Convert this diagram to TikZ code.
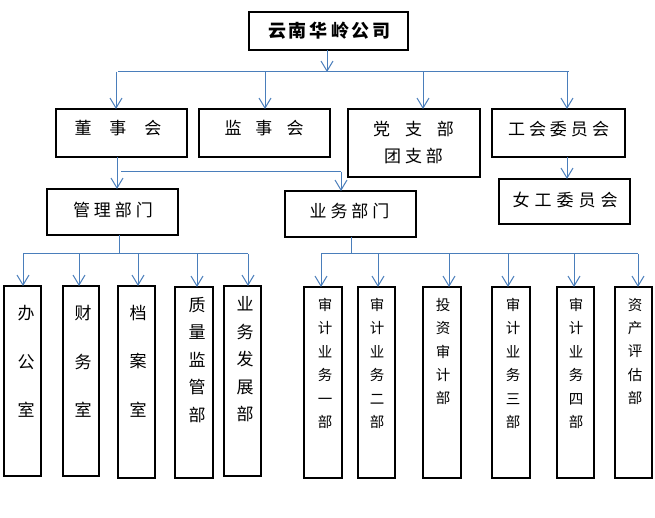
\documentclass[tikz,border=0pt]{standalone}
\usepackage{fontspec}
\setmainfont{Noto Sans CJK SC}
\usetikzlibrary{arrows.meta}
\definecolor{lnblue}{HTML}{4A7EBB}
\newcommand{\ks}{\hspace{4pt}}
\newcommand{\bx}[5]{\node[box, minimum width={#4-#2}, minimum height={#5-#3}] (#1) at (#2,#3) {};}
\tikzset{
  box/.style={draw=black, line width=1.2pt, inner sep=0pt, outer sep=0pt, anchor=north west},
  ln/.style={draw=lnblue, line width=1pt},
  arr/.style={draw=lnblue, line width=1pt, -{Straight Barb[length=10pt,width=12pt]}},
  lbl/.style={inner sep=0pt, align=center, font=\fontsize{17}{27}\selectfont},
  lblA/.style={inner sep=0pt, align=center, font=\fontsize{17}{48.5}\selectfont},
  lblB/.style={inner sep=0pt, align=center, font=\fontsize{17}{27.5}\selectfont},
  lblC/.style={inner sep=0pt, align=center, font=\fontsize{14.5}{23.4}\selectfont},
}
\begin{document}
\begin{tikzpicture}[x=1pt,y=-1pt]
\fill[white] (0,0) rectangle (655,518);
\useasboundingbox (0,0) rectangle (655,518);

% boxes
\bx{top}{249}{12}{408}{50}
\bx{dsh}{56}{109}{187}{157}
\bx{jsh}{199}{109}{330}{157}
\bx{dzb}{348}{109}{480}{177}
\bx{gh}{492}{109}{625}{157}
\bx{ng}{499}{179}{630}{224}
\bx{gl}{47}{189}{178}{235}
\bx{yw}{285}{191}{416}{237}
\bx{b1}{4}{286}{41}{476}
\bx{b2}{63}{286}{99}{476}
\bx{b3}{118}{286}{155}{478}
\bx{b4}{175}{287}{213}{478}
\bx{b5}{224}{286}{261}{476}
\bx{r1}{304}{287}{342}{478}
\bx{r2}{358}{287}{395}{478}
\bx{r3}{423}{287}{461}{478}
\bx{r4}{492}{287}{530}{478}
\bx{r5}{557}{287}{594}{478}
\bx{r6}{615}{287}{652}{478}

% texts
\node[inner sep=0pt, font=\fontsize{18}{20}\selectfont\bfseries] (t-top) at (329.5,31) {云\hspace{3pt}南\hspace{3pt}华\hspace{3pt}岭\hspace{3pt}公\hspace{3pt}司};
\node[lbl] (t-dsh) at (118,128) {董\hspace{18pt}事\hspace{18pt}会};
\node[lbl] (t-jsh) at (264,128) {监\hspace{14pt}事\hspace{14pt}会};
\node[lbl] (t-dzb) at (413.5,142.5) {党\hspace{15pt}支\hspace{15pt}部\\团\ks 支\ks 部};
\node[lbl] (t-gh) at (558.5,129) {工\ks 会\ks 委\ks 员\ks 会};
\node[lbl] (t-ng) at (565,200) {女\hspace{5pt}工\hspace{5pt}委\hspace{5pt}员\hspace{5pt}会};
\node[lbl] (t-gl) at (113,210) {管\ks 理\ks 部\ks 门};
\node[lbl] (t-yw) at (349.5,211) {业\ks 务\ks 部\ks 门};

\node[lblA] (t-b1) at (26,361.5) {办\\公\\室};
\node[lblA] (t-b2) at (83,361.5) {财\\务\\室};
\node[lblA] (t-b3) at (138,361) {档\\案\\室};
\node[lblB] (t-b4) at (197,360) {质\\量\\监\\管\\部};
\node[lblB] (t-b5) at (245,359.5) {业\\务\\发\\展\\部};

\node[lblC] (t-r1) at (325,363.5) {审\\计\\业\\务\\一\\部};
\node[lblC] (t-r2) at (377,363.5) {审\\计\\业\\务\\二\\部};
\node[lblC] (t-r3) at (443,351.5) {投\\资\\审\\计\\部};
\node[lblC] (t-r4) at (513,363.5) {审\\计\\业\\务\\三\\部};
\node[lblC] (t-r5) at (576,363.5) {审\\计\\业\\务\\四\\部};
\node[lblC] (t-r6) at (635,351.5) {资\\产\\评\\估\\部};

% top bus
\coordinate (busT) at (327,72);
\coordinate (busTL) at (118,72);
\coordinate (busTR) at (569,72);
\coordinate (a1) at (116,72);
\coordinate (a2) at (265,72);
\coordinate (a3) at (423,72);
\coordinate (a4) at (567,72);
\draw[arr] (busT |- top.south) -- (busT);
\draw[ln] (busTL) -- (busTR);
\draw[arr] (a1) -- (a1 |- dsh.north);
\draw[arr] (a2) -- (a2 |- jsh.north);
\draw[arr] (a3) -- (a3 |- dzb.north);
\draw[arr] (a4) -- (a4 |- gh.north);
\draw[arr] (a4 |- gh.south) -- (a4 |- ng.north);

% board to departments
\coordinate (d0) at (117,172);
\coordinate (h1) at (121,172);
\coordinate (h2) at (341,172);
\draw[arr] (d0 |- dsh.south) -- (d0 |- gl.north);
\draw[ln] (h1) -- (h2);
\draw[arr] (h2) -- (h2 |- yw.north);

% management bus
\coordinate (gb) at (119,254);
\coordinate (gbl) at (23,254);
\coordinate (gbr) at (248,254);
\draw[ln] (gb |- gl.south) -- (gb);
\draw[ln] (gbl) -- (gbr);
\coordinate (c1) at (23,254);
\coordinate (c2) at (79,254);
\coordinate (c3) at (138,254);
\coordinate (c4) at (197,254);
\coordinate (c5) at (248,254);
\draw[arr] (c1) -- (c1 |- b1.north);
\draw[arr] (c2) -- (c2 |- b2.north);
\draw[arr] (c3) -- (c3 |- b3.north);
\draw[arr] (c4) -- (c4 |- b4.north);
\draw[arr] (c5) -- (c5 |- b5.north);

% business bus
\coordinate (yb) at (351,254);
\coordinate (ybl) at (321,254);
\coordinate (ybr) at (638,254);
\draw[ln] (yb |- yw.south) -- (yb);
\draw[ln] (ybl) -- (ybr);
\coordinate (e1) at (321,254);
\coordinate (e2) at (378,254);
\coordinate (e3) at (449,254);
\coordinate (e4) at (508,254);
\coordinate (e5) at (574,254);
\coordinate (e6) at (638,254);
\draw[arr] (e1) -- (e1 |- r1.north);
\draw[arr] (e2) -- (e2 |- r2.north);
\draw[arr] (e3) -- (e3 |- r3.north);
\draw[arr] (e4) -- (e4 |- r4.north);
\draw[arr] (e5) -- (e5 |- r5.north);
\draw[arr] (e6) -- (e6 |- r6.north);
\end{tikzpicture}
\end{document}
